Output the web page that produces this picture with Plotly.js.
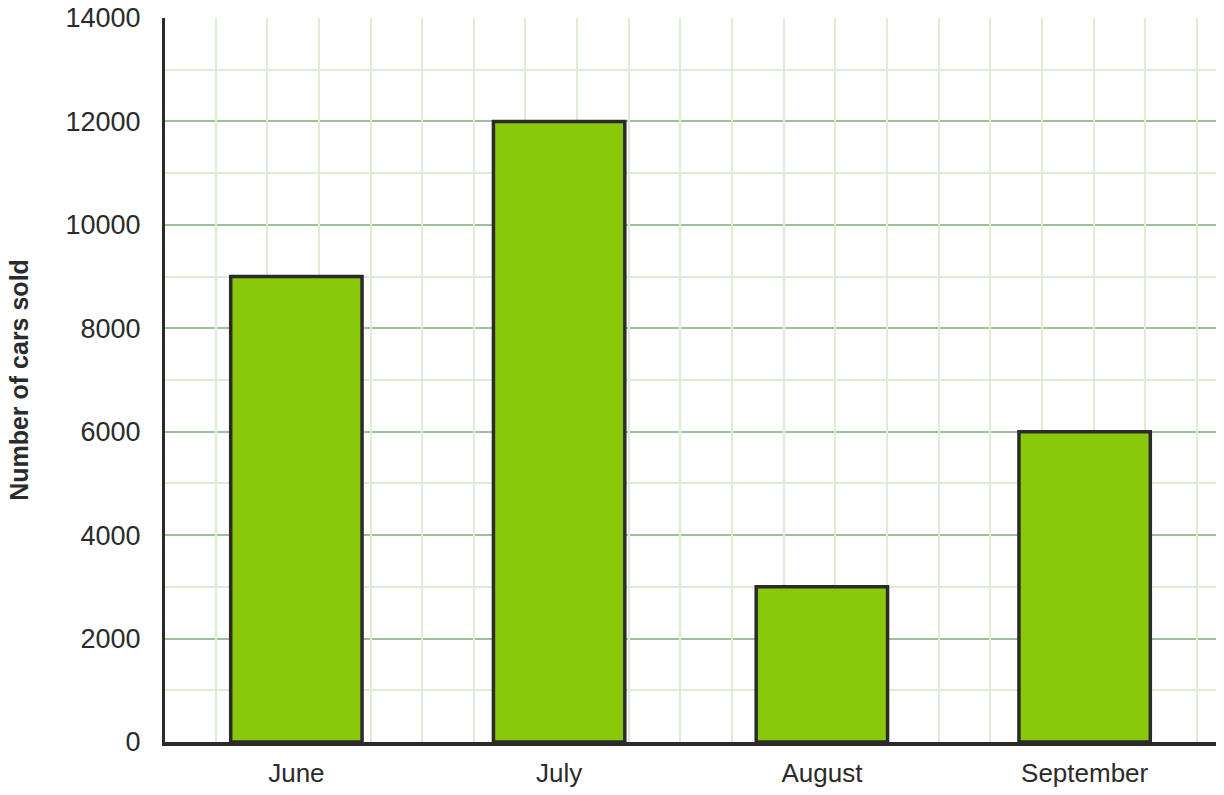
<!DOCTYPE html>
<html>
<head>
<meta charset="utf-8">
<script src="https://cdn.plot.ly/plotly-3.0.1.min.js"></script>
<style>html,body{margin:0;padding:0;background:#fff;}#chart{width:1224px;height:795px;}</style>
</head>
<body>
<div id="chart"></div>
<script>
const months = ["June", "July", "August", "September"];
const carsSold = [9000, 12000, 3000, 6000];
const yTickValues = [0, 2000, 4000, 6000, 8000, 10000, 12000, 14000];
const yTickLabels = ["0", "2000", "4000", "6000", "8000", "10000", "12000", "14000"];
const yTitle = "Number of cars sold";

const barTrace = {
  type: "bar",
  x: months,
  y: carsSold,
  width: 0.5,
  marker: {color: "#8ac80a", line: {color: "#2b2b2b", width: 3.5}},
  hoverinfo: "x+y",
  showlegend: false
};

// empty trace so the overlaying grid axis (vertical grid) gets a subplot
const gridTrace = {
  type: "scatter",
  x: [],
  y: [],
  xaxis: "x2",
  yaxis: "y",
  hoverinfo: "skip",
  showlegend: false
};

const layout = {
  width: 1224,
  height: 795,
  margin: {l: 165, r: 8, t: 18, b: 53},
  paper_bgcolor: "#ffffff",
  plot_bgcolor: "#ffffff",
  font: {family: "Liberation Sans, Arial, sans-serif", color: "#2b2b2b"},
  showlegend: false,
  xaxis: {
    type: "category",
    range: [-0.5, 3.5],
    showgrid: false,
    zeroline: false,
    showline: true,
    linecolor: "#2b2b2b",
    linewidth: 4,
    ticks: "outside",
    ticklen: 5,
    tickcolor: "rgba(0,0,0,0)",
    tickfont: {size: 26, color: "#2b2b2b"}
  },
  xaxis2: {
    overlaying: "x",
    anchor: "y",
    range: [0.02, 20.37],
    dtick: 1,
    tick0: 0,
    showgrid: true,
    gridcolor: "#ddedd3",
    gridwidth: 2,
    showticklabels: false,
    zeroline: false,
    showline: false,
    ticks: ""
  },
  yaxis: {
    range: [0, 14000],
    tickvals: yTickValues,
    ticktext: yTickLabels,
    showgrid: true,
    gridcolor: "#9cc29a",
    gridwidth: 2,
    minor: {dtick: 1000, showgrid: true, gridcolor: "#ddedd3", gridwidth: 2},
    zeroline: false,
    showline: true,
    linecolor: "#2b2b2b",
    linewidth: 3,
    ticks: "outside",
    ticklen: 16,
    tickcolor: "rgba(0,0,0,0)",
    tickfont: {size: 27, color: "#2b2b2b"},
    title: {text: yTitle, font: {size: 25, color: "#2b2b2b", weight: "bold"}, standoff: 30}
  }
};

Plotly.newPlot("chart", [barTrace, gridTrace], layout, {displayModeBar: false, staticPlot: true});
</script>
</body>
</html>
